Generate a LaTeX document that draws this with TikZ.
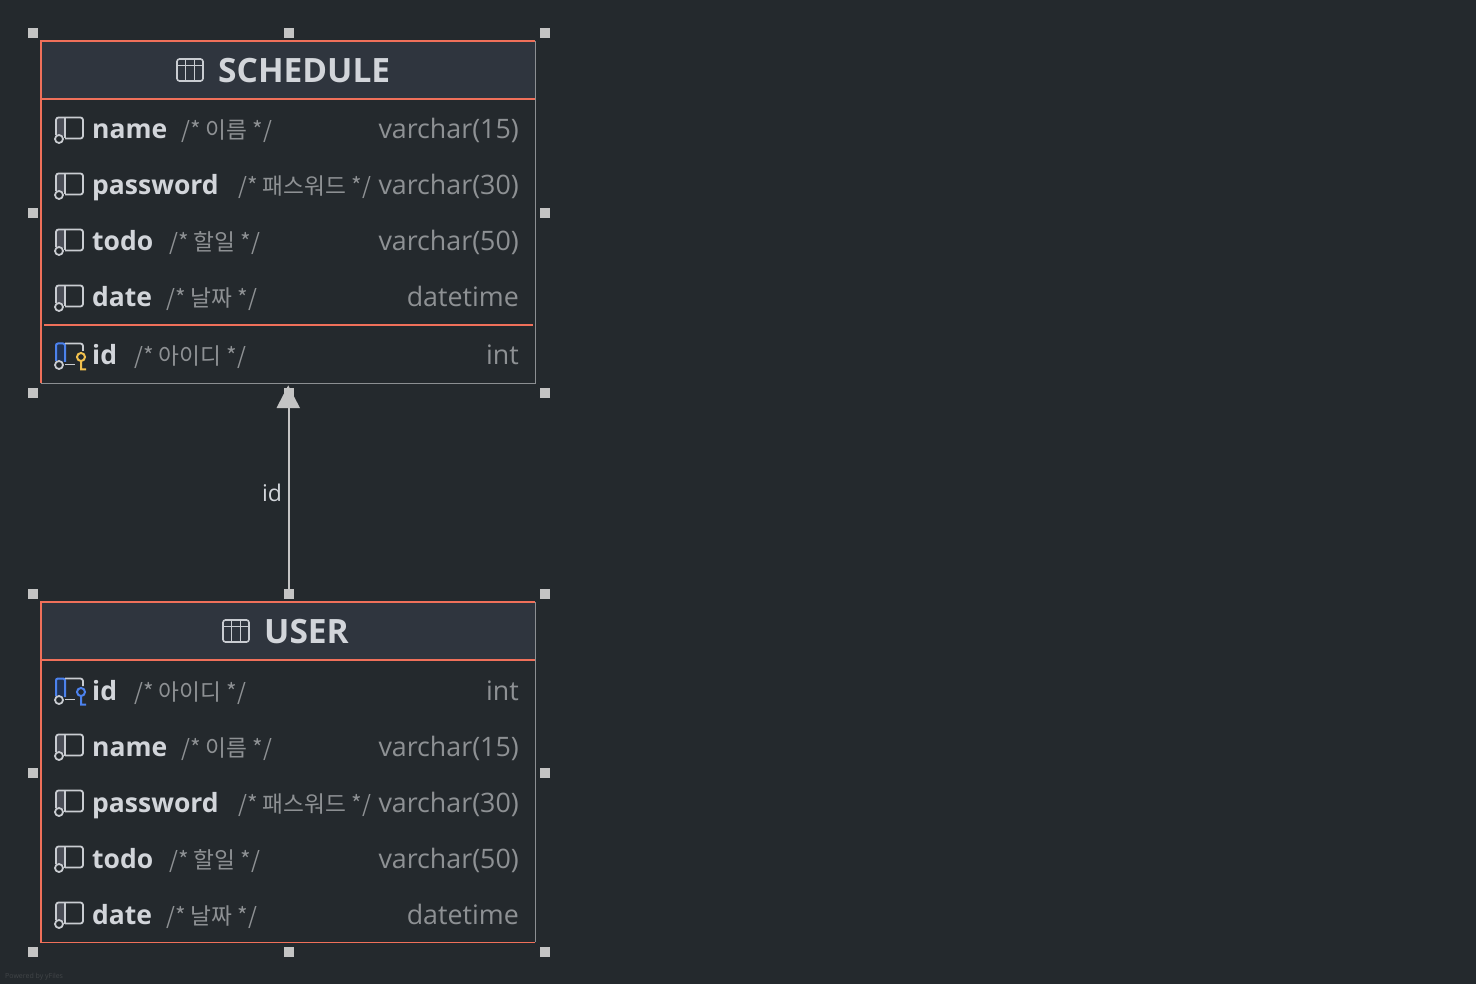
\documentclass[tikz,border=0pt]{standalone}
\usepackage{fontspec}
\setmainfont{Open Sans}
\newfontfamily\krfont{Noto Sans CJK KR}
\definecolor{bgc}{HTML}{24292D}
\definecolor{headc}{HTML}{2F353E}
\definecolor{orangec}{HTML}{F0705A}
\definecolor{edgec}{HTML}{8C8F92}
\definecolor{handlec}{HTML}{C4C4C4}
\definecolor{textc}{HTML}{D2D5DA}
\definecolor{dimc}{HTML}{8E9194}
\definecolor{iconc}{HTML}{C9CCD1}
\definecolor{iconfill}{HTML}{4A4D56}
\definecolor{bluec}{HTML}{4C82EE}
\definecolor{bluefill}{HTML}{1F3253}
\definecolor{keyy}{HTML}{F2C14E}
\tikzset{
  x=1pt,y=-1pt,
  handle/.style={fill=handlec,draw=none,minimum size=9.5pt,inner sep=0pt,rectangle},
  tablebox/.style={draw=none,fill=none,rectangle,inner sep=0pt,anchor=north west},
  colname/.style={anchor=base west,inner sep=0pt,text=textc,font=\fontsize{26.5}{27}\selectfont\bfseries},
  coltype/.style={anchor=base east,inner sep=0pt,text=dimc,font=\fontsize{26.8}{27}\selectfont},
  colnote/.style={anchor=base west,inner sep=0pt,text=dimc,font=\fontsize{22.7}{24}\selectfont},
  titletext/.style={anchor=base west,inner sep=0pt,text=textc,font=\fontsize{33.5}{34}\selectfont\bfseries},
  ruleline/.style={draw=orangec,line width=1.6pt},
  iconline/.style={draw=iconc,line width=1.8pt,line join=round},
}
% #1 centre y of the row
\newcommand{\colicon}[1]{%
  \fill[iconfill] (56,#1-11.5) rectangle (65,#1+7);
  \draw[iconline,rounded corners=2.5pt] (56,#1+6) -- (56,#1-11.5) -- (83,#1-11.5) -- (83,#1+9.5) -- (65,#1+9.5);
  \draw[iconline] (65,#1-11.5) -- (65,#1+9.5);
  \draw[iconline,fill=bgc] (59,#1+10) circle[radius=4];
}
% #1 centre y, #2 key colour
\newcommand{\keyicon}[2]{%
  \fill[bluefill] (56,#1-11.5) rectangle (65,#1+7);
  \draw[draw=bluec,line width=2pt,rounded corners=2pt] (56,#1+6) -- (56,#1-11.5) -- (65,#1-11.5) -- (65,#1+7);
  \draw[iconline,rounded corners=2.5pt] (65,#1-11.5) -- (83,#1-11.5) -- (83,#1-4);
  \draw[iconline] (65,#1+9.5) -- (75,#1+9.5);
  \draw[iconline,fill=bgc] (59,#1+10) circle[radius=4];
  \draw[draw=#2,line width=2pt] (81,#1+2) circle[radius=4] (81,#1+6) -- (81,#1+14.5) -- (86,#1+14.5);
}
\newcommand{\colrow}[5]{% y, name, note x, note, type
  \node[colname] (n#1) at (92,#1+10) {#2};
  \node[colnote] (c#1) at (#3,#1+10) {\krfont #4};
  \node[coltype] (t#1) at (519,#1+10) {#5};
}
\begin{document}
\begin{tikzpicture}
\useasboundingbox (0,0) rectangle (1476,984);
\fill[bgc] (0,0) rectangle (1476,984);

% SCHEDULE table
\node[tablebox,minimum width=494pt,minimum height=342pt] (schedule) at (41,41) {};
\fill[headc] (41,41) rectangle (535,99);
\draw[edgec,line width=1.2pt] (schedule.north east) -- (schedule.south east) -- (schedule.south west);
\draw[ruleline] (schedule.south west) -- (schedule.north west) -- (schedule.north east);
\draw[ruleline] (41,99) -- (535,99);
\draw[ruleline] (44,325) -- (533,325);
\draw[draw=iconc,line width=1.6pt,rounded corners=2.5pt] (177,59) rectangle (203,81);
\draw[draw=iconc,line width=1.4pt] (177,65.5) -- (203,65.5) (185.5,59) -- (185.5,81) (194.5,59) -- (194.5,81);
\node[titletext] (scheduletitle) at (218,82.5) {SCHEDULE};
\colicon{129}\colrow{129}{name}{181}{/* 이름 */}{varchar(15)}
\colicon{185}\colrow{185}{password}{238}{/* 패스워드 */}{varchar(30)}
\colicon{241}\colrow{241}{todo}{169}{/* 할일 */}{varchar(50)}
\colicon{297}\colrow{297}{date}{166}{/* 날짜 */}{datetime}
\keyicon{355}{keyy}\colrow{355}{id}{134}{/* 아이디 */}{int}

% USER table
\node[tablebox,minimum width=494pt,minimum height=340pt] (user) at (41,602) {};
\fill[headc] (41,602) rectangle (535,660);
\draw[edgec,line width=1.2pt] (user.north east) -- (user.south east);
\draw[ruleline] (user.north east) -- (user.north west) -- (user.south west) -- (user.south east);
\draw[ruleline] (41,660) -- (535,660);
\draw[draw=iconc,line width=1.6pt,rounded corners=2.5pt] (223,620) rectangle (249,642);
\draw[draw=iconc,line width=1.4pt] (223,626.5) -- (249,626.5) (231.5,620) -- (231.5,642) (240.5,620) -- (240.5,642);
\node[titletext] (usertitle) at (264,643.5) {USER};
\keyicon{690}{bluec}\colrow{690}{id}{134}{/* 아이디 */}{int}
\colicon{746}\colrow{746}{name}{181}{/* 이름 */}{varchar(15)}
\colicon{802}\colrow{802}{password}{238}{/* 패스워드 */}{varchar(30)}
\colicon{858}\colrow{858}{todo}{169}{/* 할일 */}{varchar(50)}
\colicon{914}\colrow{914}{date}{166}{/* 날짜 */}{datetime}

% handles
\foreach \hx/\hy/\hn in {33/33/a,289/33/b,545/33/c,33/213/d,545/213/e,33/393/f,289/393/g,545/393/h,
  33/594/i,289/594/j,545/594/k,33/773/l,545/773/m,33/952/o,289/952/p,545/952/q}
  \node[handle] (h\hn) at (\hx,\hy) {};

% connector
\draw[draw=handlec,line width=2.2pt] (hj.center) -- (hg.center);
\fill[handlec] (schedule.south) ++(0,2) -- (276.5,408) -- (300,408) -- cycle;
\node[inner sep=0pt,text=textc,font=\fontsize{23}{23}\selectfont] (idlabel) at (272,493) {id};

\node[inner sep=0pt,anchor=base west,text=handlec!18!bgc,font=\fontsize{7}{7}\selectfont] (powered) at (5,978) {Powered by yFiles};
\end{tikzpicture}
\end{document}
